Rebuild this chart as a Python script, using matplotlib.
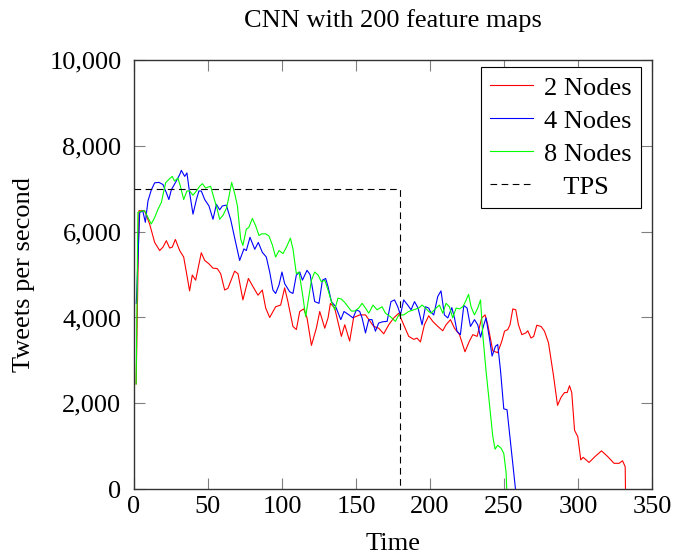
import matplotlib
matplotlib.use("Agg")
import matplotlib.pyplot as plt
from matplotlib.ticker import FuncFormatter

plt.rcParams['font.family'] = ['Liberation Serif', 'DejaVu Serif']

# ---- data ----
t_2 = [1.5, 3.4, 7.2, 10.6, 14, 17.4, 19.6, 21.9, 24.1, 25.9, 28, 30.9, 33.6, 35.4, 37.6, 39.4, 41.7, 45.5, 47.8,
       50.7, 53.4, 56.3, 58.6, 61.3, 63.5, 68, 70.3, 73.6, 77.3, 80.4, 83.8, 86.7, 89, 91.7, 95.7, 99.1, 101.8, 104,
       107.4, 109.7, 112, 114.7, 116.9, 119.9, 123.2, 125.5, 128.9, 131.1, 132.7, 135.6, 140.1, 142.4, 145.7, 148.4,
       152.5, 156.4, 162, 165.3, 168.7, 172.1, 175.5, 178.9, 182.2, 185.6, 189, 191.2, 193.5, 196.2, 199.1, 201.8,
       205, 208.6, 210.8, 213.8, 216.5, 219.9, 223.6, 226.6, 228.9, 231.8, 234.9, 237.2, 239, 242.4, 245.7, 248.5,
       250.3, 252.5, 254, 255.9, 257.9, 259.7, 262, 264.7, 266, 268.2, 270, 272.1, 275, 277.3, 280, 283.4, 286.1,
       288.5, 290.8, 292.6, 294.2, 295.7, 297.6, 299.8, 301.8, 303.4, 307.4, 311.5, 315.8, 319.9, 324.3, 327.7, 330,
       331.8, 332]
v_2 = [2450, 6490, 6490, 6180, 5750, 5560, 5640, 5790, 5620, 5640, 5820, 5560, 5410, 5060, 4620, 4990, 4870, 5510, 5330,
       5250, 5150, 5140, 5020, 4640, 4680, 5080, 5020, 4410, 4910, 4720, 4520, 4640, 4220, 4000, 4250, 4290, 4690, 4370,
       3790, 3720, 4140, 4200, 3990, 3350, 3750, 4140, 3750, 3990, 4330, 4220, 3560, 3830, 3450, 4000,
       4060, 4060, 3790, 3750, 3620, 3830, 3990, 4100, 3830, 3560, 3490, 3520, 3430, 3830, 4040, 3910,
       3800, 3690, 3830, 3950, 3750, 3600, 3200, 3450, 3600, 3560, 3990, 4060, 3830, 3220, 3180, 3450,
       3680, 3720, 3830, 4200, 4180, 3830, 3600, 3640, 3690, 3520, 3560, 3820, 3790, 3680, 3410, 2640, 1950,
       2140, 2250, 2250, 2410, 2250, 1370, 1220, 680, 740, 620, 760, 890, 760, 600, 600, 660,
       520, 0]

t_4 = [1.6, 3.9, 6, 7.7, 9.5, 11.7, 14, 16.9, 19.6, 21.9, 23.6, 25.3, 28.6, 30.9, 32, 34.3, 35.8, 37.6, 39.9, 42.2,
       43.9, 45.5, 47.8, 50.7, 53.4, 55.7, 57.9, 59.7, 62.4, 65.3, 68.2, 71.4, 74.3, 75.9, 78.4, 81.6, 84, 86.7, 89.4,
       91.7, 93.9, 95.7, 98, 100, 101.8, 105.2, 107.4, 109.7, 112, 113.8, 116.9, 119, 122.1, 125, 127.3, 129.5, 131.1,
       133.4, 136.3, 139.7, 141.9, 145.7, 148, 150.3, 152.5, 154.1, 156.4, 158.6, 160.8, 163.1, 165.3, 168, 171,
       173.6, 176, 178.2, 180, 182.2, 184.9, 187.2, 189.5, 191.9, 194.6, 196.9, 199.1, 200.2, 202.5, 205.2, 207.4,
       209.7, 212, 214.7, 216.5, 218.2, 220.5, 222.8, 225, 227.3, 230, 232.2, 234.1, 236.3, 237.8, 240.1, 241.9,
       244.2, 245.7, 247.6, 249.8, 252, 257.7]
v_4 = [4330, 6450, 6480, 6220, 6720, 6970, 7140, 7150, 7100, 6910, 6750, 6980, 7180, 7330, 7430, 7290, 7370, 6910, 6410, 6750,
       6950, 6950, 6750, 6600, 6290, 6640, 6510, 6600, 6620, 6290, 5830, 5330, 5600, 5560, 5870, 5590, 5750, 5520, 5410,
       5060, 4640, 4560, 4760, 5060, 4790, 4600, 4560, 4990, 5060, 4870, 5100, 5000, 4370, 4330, 4870, 4910, 4720,
       4370, 4250, 3950, 4140, 4050, 3990, 4180, 4140, 3990, 3640, 3950, 3950, 3680, 3870, 3900, 3910,
       4370, 4410, 4250, 4060, 4410, 4290, 4180, 4370, 4220, 3830, 4250, 4220, 4140, 4060, 4490, 4620,
       4060, 3990, 4230, 3990, 3680, 3600, 4280, 4220, 3790, 3950, 3830, 3540, 3830, 3990, 3520, 3100,
       3330, 3370, 2760, 1870, 1850, 0]

t_8 = [1.5, 2.7, 5, 7.2, 9.5, 11.7, 14, 16.2, 18.5, 21.4, 23.6, 25.9, 27.4, 29.7, 31.4, 33.6, 35.8, 37.6, 39.9, 42.2,
       44.4, 46.2, 48.4, 51.8, 54, 56.3, 57.9, 60.1, 62.4, 63.8, 66, 68.2, 69.9, 72.1, 73.6, 75.9, 77.6, 80, 82.2,
       84.5, 86.2, 89, 91.2, 93.5, 95.7, 98, 100.7, 103, 105.7, 107.4, 109.7, 111.5, 113.8, 116, 119.9, 122.1, 124.4,
       126.6, 128.9, 131.1, 133.4, 135.6, 137.8, 140.1, 142.4, 144.6, 146.9, 149.1, 151.8, 154.1, 156.4, 158.6,
       161.5, 164.2, 167.6, 169.9, 173.2, 176.6, 178.9, 182.2, 185.6, 189, 192.4, 194.6, 196.9, 199.1, 200.7, 203.5,
       206.3, 208.6, 210.8, 213.1, 215.3, 217.6, 219.9, 222.1, 223.9, 226, 227.7, 230, 232.2, 234.1, 235.6, 237.8,
       240.1, 242.4, 243.9, 245.7, 248, 249.8, 251.4, 251.8]
v_8 = [2450, 6450, 6480, 6490, 6330, 6180, 6330, 6520, 6680, 7140, 7220, 7290, 7180, 7250, 7060, 6750, 6950, 6950, 6850, 6950,
       7060, 7120, 7020, 7060, 6790, 6520, 6290, 6380, 6540, 6750, 7150, 6870, 6600, 5830, 5680, 6060, 6100, 6310, 6140,
       5910, 5950, 5950, 5900, 5690, 5410, 5560, 5490, 5640, 5850, 5600, 5020, 5060, 4560, 4020, 4870, 5060, 4990,
       4830, 4870, 4640, 4370, 4180, 4450, 4430, 4350, 4250, 4150, 4150, 4220, 4330, 4220, 4100,
       4290, 4180, 4250, 4100, 4020, 3910, 4060, 4060, 4140, 4180, 4220, 4290, 4220, 4140, 4100, 4200,
       4290, 4100, 4330, 4250, 3990, 4220, 4200, 4250, 4370, 4540, 4250, 4060, 4220, 4410, 3600, 2760,
       1990, 1220, 930, 1020, 950, 830, 370, 0]

tps_t = [0, 180, 180]
tps_v = [7000, 7000, 0]

labels = ["2 Nodes", "4 Nodes", "8 Nodes", "TPS"]
x_ticks = [0, 50, 100, 150, 200, 250, 300, 350]
y_ticks = [0, 2000, 4000, 6000, 8000, 10000]

# ---- figure ----
fig = plt.figure(figsize=(6.73, 5.57), dpi=100)
ax = fig.add_axes([0.199, 0.122, 0.770, 0.770])

lw = 0.8
ax.plot(t_2, v_2, color='#ff0000', lw=lw, label=labels[0])
ax.plot(t_4, v_4, color='#0000ff', lw=lw, label=labels[1])
ax.plot(t_8, v_8, color='#00ff00', lw=lw, label=labels[2])
ax.plot(tps_t, tps_v, color='black', lw=0.8, ls=(0, (6, 4)), label='   ' + labels[3])

ax.set_xlim(0, 350)
ax.set_ylim(0, 10000)
ax.set_xticks(x_ticks)
ax.set_yticks(y_ticks)
ax.yaxis.set_major_formatter(FuncFormatter(lambda v, p: f"{int(v):,}"))

fs = 19
ax.tick_params(direction='in', length=8, width=0.8, color='#808080', labelsize=fs,
               top=True, right=True)
ax.tick_params(axis='y', pad=9)
ax.tick_params(axis='x', pad=5)
for s in ax.spines.values():
    s.set_linewidth(1.0)
    s.set_color('#333333')

ax.set_xlabel('Time', fontsize=fs, labelpad=11)
ax.set_ylabel('Tweets per second', fontsize=fs, labelpad=10)
ax.set_title('CNN with 200 feature maps', fontsize=19, pad=24)

leg = ax.legend(loc='upper right', bbox_to_anchor=(0.979, 0.984), fontsize=fs, frameon=True,
                fancybox=False, edgecolor='black', framealpha=1, handlelength=1.6,
                handletextpad=0.45, borderaxespad=0, labelspacing=0.36, borderpad=0.35)
leg.get_frame().set_linewidth(0.8)

fig.savefig('out.png', dpi=100)
